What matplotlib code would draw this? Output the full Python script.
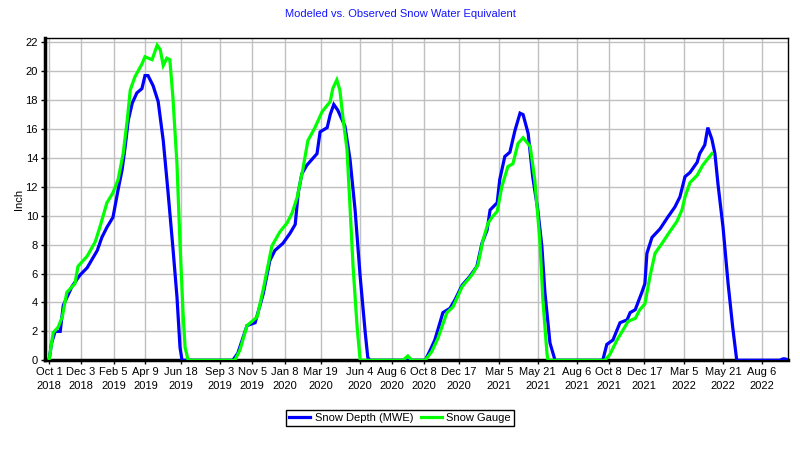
import numpy as np
import pandas as pd
import matplotlib
matplotlib.use("Agg")
import matplotlib.pyplot as plt

# --- data (days since 2018-10-01, inches) --- #
start = pd.Timestamp("2018-10-01")

depth_days = [0, 5, 12, 22, 28, 45, 61, 75, 95, 104, 114, 126, 136, 144, 150, 156, 164, 173, 183, 189,
              195, 205, 215, 225, 234, 244, 252, 258, 262,
              362, 372, 390, 406, 422, 435, 445, 461, 475, 485, 491, 498, 508, 528, 534, 548, 554, 561,
              569, 583, 593, 603, 613, 623, 628, 632,
              741, 751, 760, 766, 776, 790, 800, 814, 829, 843, 853, 863, 869, 883, 888, 898, 908, 918,
              928, 934, 944, 953, 963, 971, 977, 987, 997,
              1091, 1099, 1111, 1125, 1139, 1145, 1155, 1168, 1174, 1178, 1188, 1204, 1219, 1233, 1243,
              1253, 1263, 1277, 1282, 1292, 1298, 1306, 1312, 1318, 1328, 1338, 1347, 1355,
              1440, 1446, 1450, 1454]
depth_vals = [0, 1.2, 2.0, 2.0, 3.8, 5.1, 5.9, 6.4, 7.6, 8.5, 9.2, 9.9, 11.8, 13.2, 14.8, 16.6, 17.8, 18.5, 18.8, 19.7,
              19.7, 19.0, 17.9, 15.2, 11.8, 7.8, 4.4, 0.9, 0,
              0, 0.5, 2.4, 2.6, 4.6, 6.9, 7.6, 8.1, 8.8, 9.4, 11.6, 12.9, 13.5, 14.3, 15.8, 16.1, 17.0, 17.7,
              17.3, 16.2, 13.9, 10.4, 5.8, 1.9, 0.2, 0,
              0, 0.7, 1.4, 2.1, 3.3, 3.6, 4.2, 5.2, 5.8, 6.5, 8.1, 9.0, 10.4, 10.9, 12.5, 14.1, 14.4, 15.9,
              17.1, 17.0, 15.7, 12.7, 10.4, 7.9, 4.7, 1.2, 0,
              0, 1.1, 1.4, 2.6, 2.8, 3.3, 3.5, 4.7, 5.3, 7.4, 8.5, 9.1, 9.9, 10.6, 11.3,
              12.7, 13.0, 13.7, 14.3, 14.9, 16.1, 15.3, 14.3, 12.2, 9.2, 5.3, 2.3, 0,
              0, 0.1, 0.1, 0.05]

gauge_days = [0, 8, 18, 26, 35, 51, 57, 75, 91, 100, 114, 126, 136, 146, 154, 160, 169, 183, 189, 203,
              213, 219, 225, 232, 238, 244, 252, 258, 264, 268, 274,
              366, 376, 390, 410, 422, 439, 455, 469, 479, 489, 500, 510, 524, 538, 554, 559, 567, 573,
              579, 587, 593, 599, 607, 613,
              697, 707, 715,
              741, 754, 766, 784, 796, 814, 833, 845, 855, 865, 873, 883, 892, 904, 914, 924, 934, 948,
              957, 967, 973, 981, 983,
              1095, 1105, 1119, 1131, 1141, 1155, 1164, 1174, 1184, 1194, 1208, 1223, 1237, 1247, 1253,
              1263, 1277, 1288, 1306]
gauge_vals = [0, 1.9, 2.3, 3.0, 4.7, 5.3, 6.5, 7.2, 8.2, 9.2, 10.9, 11.6, 12.5, 14.3, 16.6, 18.7, 19.6, 20.5, 21.0, 20.8,
              21.8, 21.5, 20.4, 20.9, 20.8, 18.2, 13.6, 8.1, 3.3, 0.9, 0,
              0, 0.7, 2.4, 3.0, 4.9, 7.9, 8.9, 9.5, 10.2, 11.3, 13.2, 15.2, 16.1, 17.2, 17.9, 18.8, 19.4, 18.7,
              16.8, 14.6, 10.6, 6.5, 2.3, 0,
              0, 0.3, 0,
              0, 0.6, 1.5, 3.3, 3.7, 5.1, 5.9, 6.6, 8.3, 9.5, 9.9, 10.3, 12.0, 13.4, 13.6, 15.0, 15.4, 14.8,
              12.5, 8.3, 4.2, 0.5, 0,
              0, 0.4, 1.4, 2.1, 2.7, 2.9, 3.5, 3.9, 5.8, 7.4, 8.1, 8.9, 9.6, 10.4, 11.3,
              12.3, 12.8, 13.5, 14.3]

tick_dates = ["2018-10-01", "2018-12-03", "2019-02-05", "2019-04-09", "2019-06-18", "2019-09-03",
              "2019-11-05", "2020-01-08", "2020-03-19", "2020-06-04", "2020-08-06", "2020-10-08",
              "2020-12-17", "2021-03-05", "2021-05-21", "2021-08-06", "2021-10-08", "2021-12-17",
              "2022-03-05", "2022-05-21", "2022-08-06"]
tick_labels = ["Oct 1\n2018", "Dec 3\n2018", "Feb 5\n2019", "Apr 9\n2019", "Jun 18\n2019", "Sep 3\n2019",
               "Nov 5\n2019", "Jan 8\n2020", "Mar 19\n2020", "Jun 4\n2020", "Aug 6\n2020", "Oct 8\n2020",
               "Dec 17\n2020", "Mar 5\n2021", "May 21\n2021", "Aug 6\n2021", "Oct 8\n2021", "Dec 17\n2021",
               "Mar 5\n2022", "May 21\n2022", "Aug 6\n2022"]


def to_dates(days):
    return start + pd.to_timedelta(np.array(days), unit="D")


plt.rcParams['font.family'] = ['Liberation Sans', 'DejaVu Sans']

fig = plt.figure(figsize=(8, 4.5), dpi=100)
ax = fig.add_axes([45 / 800, 1 - 360.3 / 450, (788 - 45) / 800, (360.3 - 38) / 450])

ax.plot(to_dates(depth_days), depth_vals, color="#0000ff", lw=2.3, label="Snow Depth (MWE)",
        solid_joinstyle="miter", zorder=3)
ax.plot(to_dates(gauge_days), gauge_vals, color="#00ff00", lw=2.3, label="Snow Gauge",
        solid_joinstyle="miter", zorder=4)

ax.set_xlim(start - pd.Timedelta(days=8), start + pd.Timedelta(days=1456))
ax.set_ylim(0, 22.3)
ax.set_yticks(np.arange(0, 23, 2))
ax.set_xticks(pd.to_datetime(tick_dates))
ax.set_xticklabels(tick_labels, linespacing=1.45)
ax.tick_params(labelsize=8, length=3, width=1, color="black", pad=2)

ax.grid(True, color="#c0c0c0", lw=1)
ax.set_axisbelow(True)
for side in ["left", "bottom"]:
    ax.spines[side].set_linewidth(2.5)
for side in ["top", "right"]:
    ax.spines[side].set_linewidth(1)

ax.set_ylabel("Inch", fontsize=8, labelpad=1)
fig.text(0.5, 1 - 14 / 450, "Modeled vs. Observed Snow Water Equivalent", ha="center", va="center",
         fontsize=8, color="#1414ff")

leg = fig.legend(loc="center", bbox_to_anchor=(0.5, 1 - 418 / 450), ncol=2, fontsize=8,
                 fancybox=False, edgecolor="black", framealpha=1, handlelength=1.9,
                 borderpad=0.25, borderaxespad=0, columnspacing=0.7, handletextpad=0.4)
leg.get_frame().set_linewidth(1)

fig.savefig("out.png", dpi=100)
